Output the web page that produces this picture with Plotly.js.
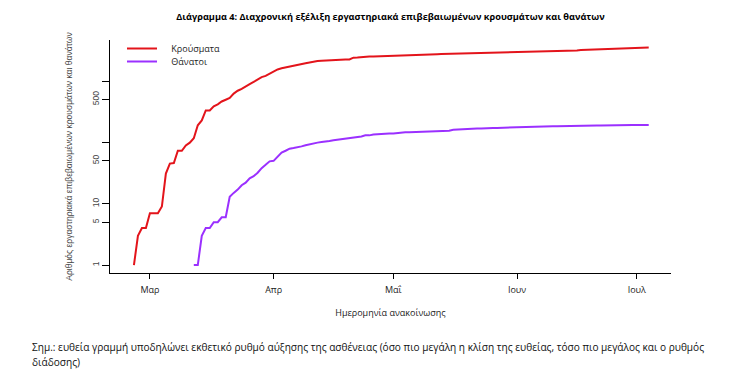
<!DOCTYPE html>
<html>
<head>
<meta charset="utf-8">
<script src="https://cdn.plot.ly/plotly-3.0.1.min.js"></script>
<style>html,body{margin:0;padding:0;background:#fff;}#chart{width:736px;height:377px;}</style>
</head>
<body>
<div id="chart"></div>
<script>
// Cumulative confirmed cases, daily from 2020-02-26 to 2020-07-04
const casesStart = "2020-02-26";
const cases = [
  1, 3, 4, 4,
  7, 7, 7, 9, 31, 45, 46, 73, 73, 89, 99, 117, 190, 228, 331, 331, 387, 418, 464, 495, 530, 624, 695, 743, 821, 892, 966, 1061, 1156, 1212, 1314,
  1415, 1544, 1613, 1673, 1735, 1755, 1832, 1884, 1955, 2011, 2081, 2114, 2145, 2170, 2192, 2207, 2224, 2235, 2235, 2245, 2401, 2408, 2463, 2490, 2506, 2517, 2534, 2566, 2576, 2591,
  2612, 2620, 2626, 2632, 2642, 2663, 2678, 2691, 2710, 2716, 2726, 2744, 2760, 2770, 2810, 2819, 2834, 2836, 2840, 2850, 2853, 2873, 2876, 2878, 2882, 2892, 2903, 2906, 2909, 2915, 2917,
  2918, 2937, 2952, 2967, 2980, 3049, 3058, 3060, 3083, 3088, 3108, 3112, 3121, 3134, 3148, 3148, 3203, 3227, 3237, 3256, 3266, 3287, 3302, 3310, 3343, 3366, 3376, 3390, 3409, 3432,
  3458, 3486, 3511, 3519
];
// Cumulative deaths, daily from 2020-03-12 to 2020-07-04
const deathsStart = "2020-03-12";
const deaths = [
  1, 1, 3, 4, 4, 5, 5, 6, 6, 13, 15, 17, 20, 22, 26, 28, 32, 38, 43, 49,
  50, 59, 68, 73, 79, 81, 83, 86, 90, 93, 98, 99, 101, 102, 105, 108, 110, 113, 114, 116, 121, 121, 125, 130, 130, 134, 136, 138, 139, 140,
  140, 143, 144, 146, 146, 147, 148, 150, 150, 151, 151, 151, 152, 155, 155, 160, 162, 163, 165, 165, 166, 168, 169, 171, 171, 171, 172, 173, 173, 173, 175,
  175, 179, 180, 180, 180, 182, 182, 183, 183, 183, 183, 183, 183, 183, 184, 186, 187, 187, 188, 188, 188, 189, 190, 190, 190, 190, 191, 191, 191, 192,
  192, 192, 192, 192
];
const seriesNames = ["Κρούσματα", "Θάνατοι"];
const monthTickDates = ["2020-03-01", "2020-04-01", "2020-05-01", "2020-06-01", "2020-07-01"];
const monthTickLabels = ["Μαρ", "Απρ", "Μαΐ", "Ιουν", "Ιουλ"];
const yTickVals = [1, 5, 10, 50, 100, 500, 1000];
const yTickText = ["1", "5", "10", "50", "", "500", ""];

function dailyDates(start, n) {
  const out = [];
  const d0 = new Date(start + "T00:00:00Z");
  for (let i = 0; i < n; i++) {
    const d = new Date(d0.getTime() + i * 86400000);
    out.push(d.toISOString().slice(0, 10));
  }
  return out;
}

const pad = "\u00A0\u00A0\u00A0\u00A0";
const traces = [
  {x: dailyDates(casesStart, cases.length), y: cases, name: pad + seriesNames[0], type: "scatter", mode: "lines",
   line: {color: "#e3141b", width: 2}, legend: "legend"},
  {x: dailyDates(deathsStart, deaths.length), y: deaths, name: pad + seriesNames[1], type: "scatter", mode: "lines",
   line: {color: "#9b30ff", width: 2}, legend: "legend2"}
];

const sans = "Open Sans, sans-serif";
const rfont = "Liberation Sans, Arial, sans-serif";
const legendBase = {xanchor: "left", yanchor: "top", bgcolor: "rgba(0,0,0,0)",
                    font: {family: sans, size: 9, color: "#222"}};

const layout = {
  width: 736, height: 377,
  margin: {l: 110, r: 65, t: 40, b: 104},
  paper_bgcolor: "#fff", plot_bgcolor: "#fff",
  showlegend: true,
  title: {text: "<b>Διάγραμμα 4: Διαχρονική εξέλιξη εργαστηριακά επιβεβαιωμένων κρουσμάτων και θανάτων</b>",
          font: {family: sans, size: 9.2, color: "#000"},
          x: 0.5, xref: "paper", xanchor: "center", y: 1 - 17/377, yref: "container", yanchor: "middle"},
  xaxis: {type: "date", range: ["2020-02-20", "2020-07-09 14:00"],
          tickmode: "array", tickvals: monthTickDates, ticktext: monthTickLabels,
          ticks: "outside", ticklen: 5, tickcolor: "#000", tickwidth: 1, ticklabelstandoff: 3,
          showline: true, linecolor: "#000", linewidth: 1, showgrid: false, zeroline: false,
          tickfont: {family: sans, size: 9, color: "#222"},
          title: {text: "Ημερομηνία ανακοίνωσης", font: {family: sans, size: 9, color: "#222"}, standoff: 14}},
  yaxis: {type: "log", range: [-0.13, 3.669],
          tickmode: "array", tickvals: yTickVals, ticktext: yTickText, tickangle: -90,
          ticks: "outside", ticklen: 7, tickcolor: "#000", tickwidth: 1,
          showline: true, linecolor: "#000", linewidth: 1, showgrid: false, zeroline: false,
          tickfont: {family: rfont, size: 8.5, color: "#444"},
          title: {text: "Αριθμός εργαστηριακά επιβεβαιωμένων κρουσμάτων και θανάτων", font: {family: rfont, size: 8.5, color: "#444"}, standoff: 16}},
  legend: Object.assign({x: (122 - 110) / 561, y: (273 - 34) / 233}, legendBase),
  legend2: Object.assign({x: (122 - 110) / 561, y: (273 - 47) / 233}, legendBase),
  annotations: [
    {text: "Σημ.: ευθεία γραμμή υποδηλώνει εκθετικό ρυθμό αύξησης της ασθένειας (όσο πιο μεγάλη η κλίση της ευθείας, τόσο πιο μεγάλος και ο ρυθμός",
     xref: "paper", yref: "paper", x: (30 - 110) / 561, y: (273 - 347) / 233, xanchor: "left", yanchor: "middle",
     showarrow: false, align: "left", font: {family: sans, size: 10.1, color: "#111"}},
    {text: "διάδοσης)",
     xref: "paper", yref: "paper", x: (30 - 110) / 561, y: (273 - 362) / 233, xanchor: "left", yanchor: "middle",
     showarrow: false, align: "left", font: {family: sans, size: 10.1, color: "#111"}}
  ]
};

Plotly.newPlot("chart", traces, layout, {displayModeBar: false, staticPlot: true});
</script>
</body>
</html>
